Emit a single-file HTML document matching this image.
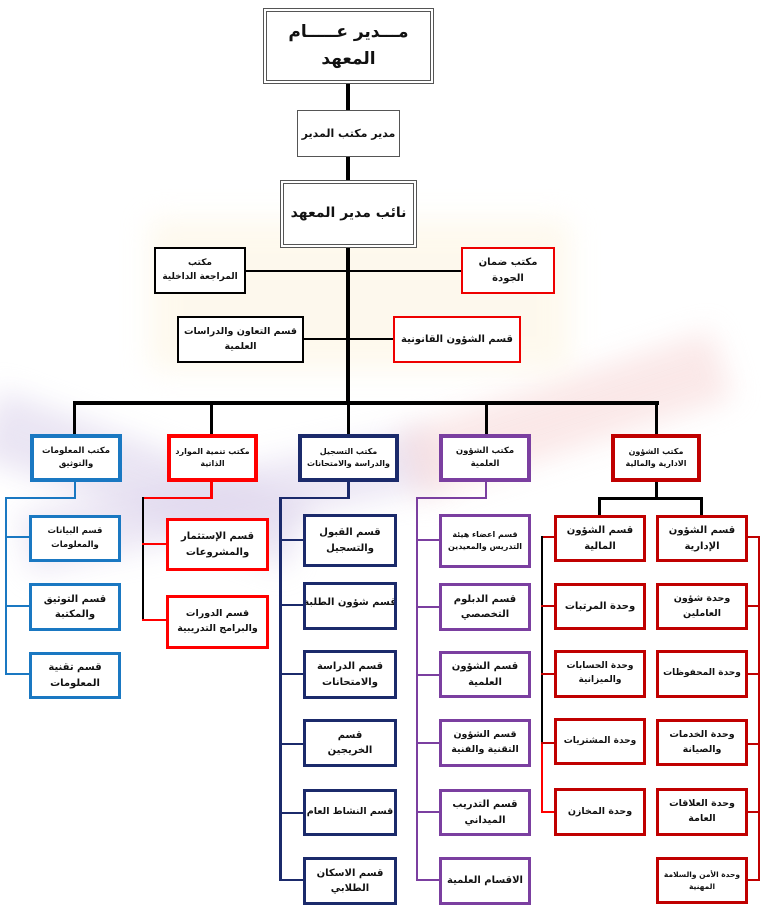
<!DOCTYPE html>
<html><head><meta charset="utf-8"><style>
body{margin:0;width:768px;height:913px;position:relative;background:#fff;overflow:hidden;font-family:"DejaVu Sans",sans-serif;font-weight:bold}
.b{position:absolute;box-sizing:border-box;background:#fff;display:flex;align-items:center;justify-content:center;text-align:center;direction:rtl;font-size:10px;line-height:1.55;color:#111;padding:0 1px;white-space:nowrap;overflow:hidden}
.l{position:absolute}
.wm{position:absolute;filter:blur(14px);opacity:.55}
</style></head><body>
<div class="wm" style="left:0;top:390px;width:330px;height:70px;background:#d9d0ea;transform:rotate(20deg);transform-origin:0 0"></div>
<div class="wm" style="left:20px;top:470px;width:420px;height:60px;background:#ddd4ec;transform:rotate(-12deg)"></div>
<div class="wm" style="left:400px;top:380px;width:330px;height:70px;background:#f7d6d6;transform:rotate(-18deg)"></div>
<div class="wm" style="left:150px;top:220px;width:420px;height:150px;background:#fdf3dc;opacity:.5"></div>

<div class="l" style="left:346px;top:83px;width:4px;height:322px;background:#000"></div>
<div class="b" style="left:263px;top:8px;width:171px;height:76px;border:4px double #555;font-size:17px;line-height:1.6">مـــدير عـــــام<br>المعهد</div>
<div class="b" style="left:297px;top:110px;width:103px;height:47px;border:1px solid #555;font-size:11px">مدير مكتب المدير</div>
<div class="b" style="left:280px;top:180px;width:137px;height:68px;border:4px double #555;font-size:14px">نائب مدير المعهد</div>
<div class="l" style="left:245px;top:270px;width:217px;height:2px;background:#000"></div>
<div class="l" style="left:303px;top:338px;width:91px;height:2px;background:#000"></div>
<div class="b" style="left:154px;top:247px;width:92px;height:47px;border:2px solid #000;font-size:9px">مكتب<br>المراجعة الداخلية</div>
<div class="b" style="left:461px;top:247px;width:94px;height:47px;border:2px solid #e00">مكتب ضمان<br>الجودة</div>
<div class="b" style="left:177px;top:316px;width:127px;height:47px;border:2px solid #000;font-size:9.5px">قسم التعاون والدراسات<br>العلمية</div>
<div class="b" style="left:393px;top:316px;width:128px;height:47px;border:2px solid #e00">قسم الشؤون القانونية</div>
<div class="l" style="left:73px;top:401px;width:586px;height:4px;background:#000"></div>
<div class="l" style="left:73px;top:401px;width:3px;height:34px;background:#000"></div>
<div class="l" style="left:210px;top:401px;width:3px;height:34px;background:#000"></div>
<div class="l" style="left:347px;top:401px;width:3px;height:34px;background:#000"></div>
<div class="l" style="left:485px;top:401px;width:3px;height:34px;background:#000"></div>
<div class="l" style="left:655px;top:401px;width:3px;height:34px;background:#000"></div>

<div class="l" style="left:74px;top:481px;width:2px;height:18px;background:#1a78c2"></div>
<div class="l" style="left:5px;top:497px;width:71px;height:2px;background:#1a78c2"></div>
<div class="l" style="left:5px;top:497px;width:2px;height:178px;background:#1a78c2"></div>
<div class="l" style="left:5px;top:536px;width:25px;height:2px;background:#1a78c2"></div>
<div class="l" style="left:5px;top:605px;width:25px;height:2px;background:#1a78c2"></div>
<div class="l" style="left:5px;top:673px;width:25px;height:2px;background:#1a78c2"></div>
<div class="b" style="left:30px;top:434px;width:92px;height:48px;border:4px solid #1a78c2;font-size:8.5px">مكتب المعلومات<br>والتوثيق</div>
<div class="b" style="left:29px;top:515px;width:92px;height:47px;border:3px solid #1a78c2;font-size:8.5px">قسم البيانات<br>والمعلومات</div>
<div class="b" style="left:29px;top:583px;width:92px;height:48px;border:3px solid #1a78c2">قسم التوثيق<br>والمكتبة</div>
<div class="b" style="left:29px;top:652px;width:92px;height:47px;border:3px solid #1a78c2">قسم تقنية<br>المعلومات</div>

<div class="l" style="left:210px;top:481px;width:3px;height:18px;background:#f00"></div>
<div class="l" style="left:142px;top:497px;width:71px;height:2px;background:#f00"></div>
<div class="l" style="left:142px;top:497px;width:2px;height:124px;background:#000"></div>
<div class="l" style="left:142px;top:543px;width:25px;height:2px;background:#f00"></div>
<div class="l" style="left:142px;top:619px;width:25px;height:2px;background:#f00"></div>
<div class="b" style="left:167px;top:434px;width:91px;height:48px;border:4px solid #f00;font-size:8px">مكتب تنمية الموارد<br>الذاتية</div>
<div class="b" style="left:166px;top:518px;width:103px;height:53px;border:3px solid #f00">قسم الإستثمار<br>والمشروعات</div>
<div class="b" style="left:166px;top:595px;width:103px;height:54px;border:3px solid #f00;font-size:9.5px">قسم الدورات<br>والبرامج التدريبية</div>

<div class="l" style="left:347px;top:481px;width:3px;height:18px;background:#1b2a6b"></div>
<div class="l" style="left:279px;top:497px;width:70px;height:2px;background:#1b2a6b"></div>
<div class="l" style="left:279px;top:497px;width:3px;height:384px;background:#1b2a6b"></div>
<div class="l" style="left:279px;top:539px;width:25px;height:2px;background:#1b2a6b"></div>
<div class="l" style="left:279px;top:604px;width:25px;height:2px;background:#1b2a6b"></div>
<div class="l" style="left:279px;top:673px;width:25px;height:2px;background:#1b2a6b"></div>
<div class="l" style="left:279px;top:743px;width:25px;height:2px;background:#1b2a6b"></div>
<div class="l" style="left:279px;top:812px;width:25px;height:2px;background:#1b2a6b"></div>
<div class="l" style="left:279px;top:879px;width:25px;height:2px;background:#1b2a6b"></div>
<div class="b" style="left:298px;top:434px;width:101px;height:48px;border:4px solid #1b2a6b;font-size:8px">مكتب التسجيل<br>والدراسة والامتحانات</div>
<div class="b" style="left:303px;top:514px;width:94px;height:53px;border:3px solid #1b2a6b">قسم القبول<br>والتسجيل</div>
<div class="b" style="left:303px;top:582px;width:94px;height:48px;border:3px solid #1b2a6b;align-items:flex-start;padding-top:10px">قسم شؤون الطلبة</div>
<div class="b" style="left:303px;top:650px;width:94px;height:49px;border:3px solid #1b2a6b">قسم الدراسة<br>والامتحانات</div>
<div class="b" style="left:303px;top:719px;width:94px;height:48px;border:3px solid #1b2a6b">قسم<br>الخريجين</div>
<div class="b" style="left:303px;top:789px;width:94px;height:47px;border:3px solid #1b2a6b;font-size:9.5px">قسم النشاط العام</div>
<div class="b" style="left:303px;top:857px;width:94px;height:48px;border:3px solid #1b2a6b">قسم الاسكان<br>الطلابي</div>

<div class="l" style="left:485px;top:481px;width:2px;height:18px;background:#7b3fa0"></div>
<div class="l" style="left:416px;top:497px;width:71px;height:2px;background:#7b3fa0"></div>
<div class="l" style="left:416px;top:497px;width:2px;height:384px;background:#7b3fa0"></div>
<div class="l" style="left:416px;top:539px;width:24px;height:2px;background:#7b3fa0"></div>
<div class="l" style="left:416px;top:606px;width:24px;height:2px;background:#7b3fa0"></div>
<div class="l" style="left:416px;top:674px;width:24px;height:2px;background:#7b3fa0"></div>
<div class="l" style="left:416px;top:742px;width:24px;height:2px;background:#7b3fa0"></div>
<div class="l" style="left:416px;top:811px;width:24px;height:2px;background:#7b3fa0"></div>
<div class="l" style="left:416px;top:879px;width:24px;height:2px;background:#7b3fa0"></div>
<div class="b" style="left:439px;top:434px;width:92px;height:48px;border:4px solid #7b3fa0;font-size:8.5px">مكتب الشؤون<br>العلمية</div>
<div class="b" style="left:439px;top:514px;width:92px;height:54px;border:3px solid #7b3fa0;font-size:8px">قسم اعضاء هيئة<br>التدريس والمعيدين</div>
<div class="b" style="left:439px;top:583px;width:92px;height:48px;border:3px solid #7b3fa0">قسم الدبلوم<br>التخصصي</div>
<div class="b" style="left:439px;top:651px;width:92px;height:47px;border:3px solid #7b3fa0">قسم الشؤون<br>العلمية</div>
<div class="b" style="left:439px;top:719px;width:92px;height:48px;border:3px solid #7b3fa0;font-size:9.5px">قسم الشؤون<br>التقنية والفنية</div>
<div class="b" style="left:439px;top:789px;width:92px;height:47px;border:3px solid #7b3fa0">قسم التدريب<br>الميداني</div>
<div class="b" style="left:439px;top:857px;width:92px;height:48px;border:3px solid #7b3fa0">الاقسام العلمية</div>

<div class="l" style="left:655px;top:481px;width:3px;height:18px;background:#000"></div>
<div class="l" style="left:598px;top:497px;width:105px;height:3px;background:#000"></div>
<div class="l" style="left:598px;top:497px;width:3px;height:19px;background:#000"></div>
<div class="l" style="left:700px;top:497px;width:3px;height:19px;background:#000"></div>
<div class="l" style="left:541px;top:536px;width:14px;height:2px;background:#c00000"></div>
<div class="l" style="left:541px;top:536px;width:2px;height:207px;background:#000"></div>
<div class="l" style="left:541px;top:742px;width:2px;height:71px;background:#f00"></div>
<div class="l" style="left:541px;top:605px;width:14px;height:2px;background:#c00000"></div>
<div class="l" style="left:541px;top:673px;width:14px;height:2px;background:#c00000"></div>
<div class="l" style="left:541px;top:742px;width:14px;height:2px;background:#c00000"></div>
<div class="l" style="left:541px;top:811px;width:14px;height:2px;background:#f00"></div>
<div class="l" style="left:747px;top:536px;width:13px;height:2px;background:#c00000"></div>
<div class="l" style="left:758px;top:536px;width:2px;height:345px;background:#c00000"></div>
<div class="l" style="left:747px;top:605px;width:13px;height:2px;background:#c00000"></div>
<div class="l" style="left:747px;top:673px;width:13px;height:2px;background:#c00000"></div>
<div class="l" style="left:747px;top:743px;width:13px;height:2px;background:#c00000"></div>
<div class="l" style="left:747px;top:811px;width:13px;height:2px;background:#c00000"></div>
<div class="l" style="left:747px;top:879px;width:13px;height:2px;background:#c00000"></div>
<div class="b" style="left:611px;top:434px;width:90px;height:48px;border:4px solid #c00000;font-size:8px">مكتب الشؤون<br>الادارية والمالية</div>
<div class="b" style="left:554px;top:515px;width:92px;height:47px;border:3px solid #c00000">قسم الشؤون<br>المالية</div>
<div class="b" style="left:554px;top:583px;width:92px;height:47px;border:3px solid #c00000">وحدة المرتبات</div>
<div class="b" style="left:554px;top:650px;width:92px;height:48px;border:3px solid #c00000;font-size:9px">وحدة الحسابات<br>والميزانية</div>
<div class="b" style="left:554px;top:718px;width:92px;height:47px;border:3px solid #c00000;font-size:9px">وحدة المشتريات</div>
<div class="b" style="left:554px;top:788px;width:92px;height:48px;border:3px solid #c00000;font-size:9.5px">وحدة المخازن</div>
<div class="b" style="left:656px;top:515px;width:92px;height:47px;border:3px solid #c00000">قسم الشؤون<br>الإدارية</div>
<div class="b" style="left:656px;top:583px;width:92px;height:47px;border:3px solid #c00000;font-size:9.5px">وحدة شؤون<br>العاملين</div>
<div class="b" style="left:656px;top:650px;width:92px;height:48px;border:3px solid #c00000;font-size:9px">وحدة المحفوظات</div>
<div class="b" style="left:656px;top:719px;width:92px;height:47px;border:3px solid #c00000;font-size:9.5px">وحدة الخدمات<br>والصيانة</div>
<div class="b" style="left:656px;top:788px;width:92px;height:48px;border:3px solid #c00000;font-size:9.5px">وحدة العلاقات<br>العامة</div>
<div class="b" style="left:656px;top:857px;width:92px;height:47px;border:3px solid #c00000;font-size:7.5px">وحدة الأمن والسلامة<br>المهنية</div>
</body></html>
